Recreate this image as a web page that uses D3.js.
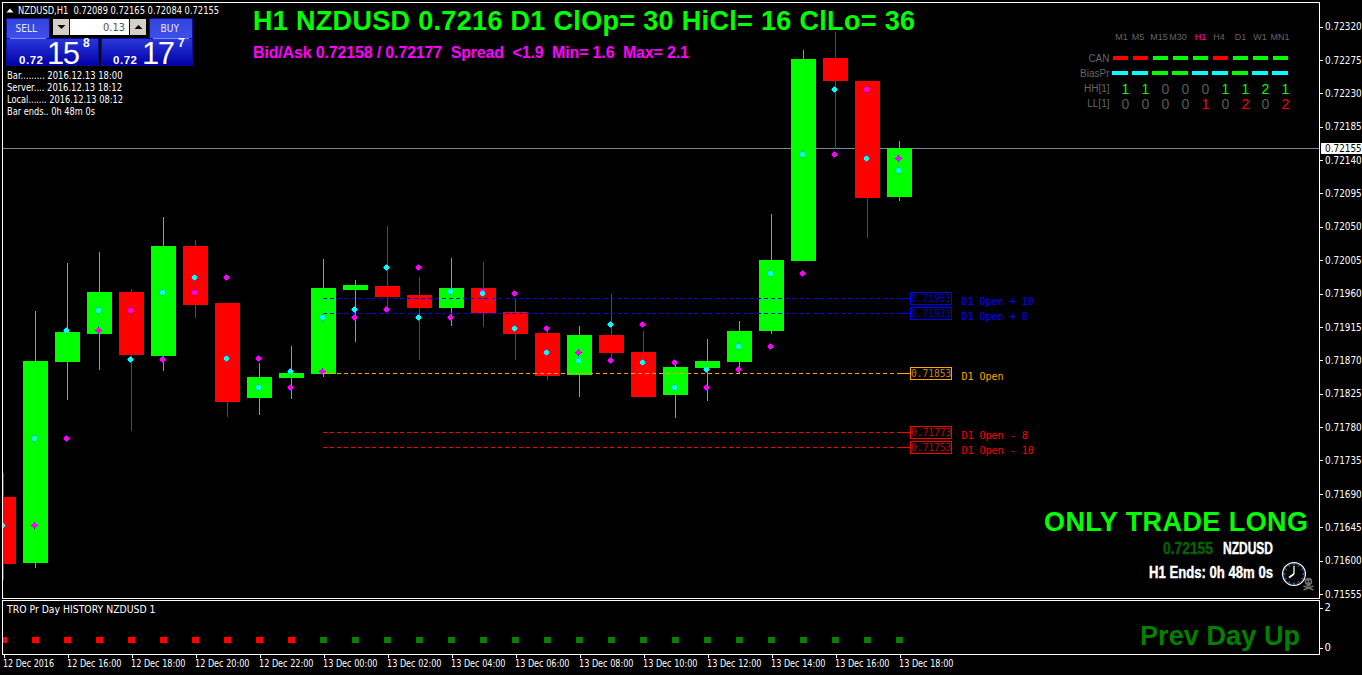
<!DOCTYPE html>
<html><head><meta charset="utf-8">
<script src="https://cdnjs.cloudflare.com/ajax/libs/d3/7.8.5/d3.min.js"></script>
<style>
html,body{margin:0;padding:0;background:#000;overflow:hidden}
svg{display:block}
text{font-family:"Liberation Sans",Arial,sans-serif}
</style></head><body>
<script>
// ---------- data ----------
const timeLabels = ["12 Dec 2016","12 Dec 16:00","12 Dec 18:00","12 Dec 20:00","12 Dec 22:00","13 Dec 00:00","13 Dec 02:00","13 Dec 04:00","13 Dec 06:00","13 Dec 08:00","13 Dec 10:00","13 Dec 12:00","13 Dec 14:00","13 Dec 16:00","13 Dec 18:00"];
const opens  = [.71686,.71597,.71868,.71905,.71962,.71876,.72024,.71947,.71819,.71846,.71851,.71964,.71970,.71958,.71940,.71967,.71935,.71907,.71850,.71904,.71881,.71823,.71860,.71868,.71909,.72003,.72276,.72246,.72089];
const highs  = [.71718,.71936,.72001,.72016,.71966,.72063,.72032,.71947,.71866,.71889,.72006,.71978,.72051,.71982,.72007,.72002,.71952,.71915,.71916,.71959,.71909,.71870,.71899,.71923,.72067,.72287,.72311,.72246,.72165];
const lows   = [.71574,.71591,.71816,.71857,.71775,.71855,.71927,.71794,.71796,.71818,.71847,.71894,.71938,.71870,.71916,.71915,.71870,.71843,.71821,.71870,.71821,.71792,.71815,.71853,.71905,.72003,.72154,.72034,.72084];
const closes = [.71596,.71869,.71908,.71962,.71877,.72024,.71944,.71814,.71847,.71853,.71967,.71971,.71955,.71940,.71967,.71933,.71905,.71849,.71904,.71880,.71821,.71861,.71869,.71909,.72005,.72275,.72246,.72088,.72155];
const cyanDots    = [.71648,.71765,.71911,.71938,.71872,.71962,.71982,.71873,.71834,.71855,.71928,.71939,.71995,.71928,.71963,.71960,.71913,.71881,.71870,.71919,.71868,.71834,.71858,.71889,.71987,.72147,.72235,.72142,.72126];
const magentaDots = [.71648,.71648,.71765,.71911,.71938,.71872,.71962,.71982,.71873,.71834,.71855,.71928,.71939,.71995,.71928,.71963,.71960,.71913,.71881,.71870,.71919,.71868,.71834,.71858,.71889,.71987,.72147,.72235,.72142];
const priceTicks = [.72320,.72275,.72230,.72185,.72140,.72095,.72050,.72005,.71960,.71915,.71870,.71825,.71780,.71735,.71690,.71645,.71600,.71555];
const lastPrice = .72155;
const levelPrices = [.71953,.71933,.71853,.71773,.71753];
const levelNames  = ["D1 Open + 10","D1 Open + 8","D1 Open","D1 Open - 8","D1 Open - 10"];
const levelColors = ["#0000ff","#0000ff","#ffa500","#ff0000","#ff0000"];
const histValues = [.4,.4,.4,.4,.4,.4,.4,.4,.4,.4,.4,.4,.4,.4,.4,.4,.4,.4,.4,.4,.4,.4,.4,.4,.4,.4,.4,.4,.4];
const histUp     = [0,0,0,0,0,0,0,0,0,0,1,1,1,1,1,1,1,1,1,1,1,1,1,1,1,1,1,1,1];
const tfNames = ["M1","M5","M15","M30","H1","H4","D1","W1","MN1"];
const canRow  = ["r","r","g","g","g","r","g","g","g"];
const biasRow = ["c","c","g","g","c","c","g","c","c"];
const hhRow = [1,1,0,0,0,1,1,2,1];
const llRow = [0,0,0,0,1,0,2,0,2];
const infoLines = ["Bar......... 2016.12.13 18:00","Server.... 2016.12.13 18:12","Local....... 2016.12.13 08:12","Bar ends.. 0h 48m 0s"];

// ---------- setup ----------
const W=1362,H=675;
const GREEN="#00ff00",RED="#ff0000",CYAN="#00ffff",MAG="#ff00ff";
const UI='"DejaVu Sans","Liberation Sans"';
const svg=d3.select("body").append("svg").attr("width",W).attr("height",H).style("background","#000");
const defs=svg.append("defs");
const panelL=2.5,panelR=1319.5,mainT=2.5,mainB=598.5,subT=600.5,subB=654.5;
defs.append("clipPath").attr("id","mainClip").append("rect").attr("x",3).attr("y",3).attr("width",1316).attr("height",595);
const x=d3.scaleLinear().domain([0,28]).range([3,899]);
const y=d3.scaleLinear().domain([.71555,.72320]).range([594.4,25.6]);
const yLabels=d3.scaleLinear().domain([.71555,.72320]).range([594,26.5]);
const sub=d3.scaleLinear().domain([0,2]).range([647.5,607.5]);
const idx=d3.range(opens.length);

function label(g,str,px,py,o={}){
  const t=g.append("text").attr("x",px).attr("y",py).text(str)
    .attr("fill",o.fill||"#fff").attr("font-size",o.size||10)
    .attr("font-weight",o.weight||"normal").attr("text-anchor",o.anchor||"start")
    .style("white-space","pre");
  if(o.family)t.style("font-family",o.family);
  if(o.len)t.attr("textLength",o.len).attr("lengthAdjust",o.adjust||"spacing");
  if(o.stroke)t.attr("stroke",o.stroke).attr("stroke-width",o.sw||.4);
  return t;
}
const ui=(g,str,px,py,len,o={})=>label(g,str,px,py,Object.assign({size:10,family:UI,len,adjust:"spacingAndGlyphs"},o));
const crisp=g=>g.attr("shape-rendering","crispEdges");

// ---------- main plot ----------
const plot=svg.append("g").attr("clip-path","url(#mainClip)");
crisp(plot.append("line")).attr("x1",3).attr("x2",1319).attr("y1",Math.round(y(lastPrice))+.5).attr("y2",Math.round(y(lastPrice))+.5).attr("stroke","#778899");
const candles=crisp(plot.append("g"));
const col=i=>closes[i]>=opens[i]?GREEN:RED;
candles.selectAll(".w").data(idx).join("rect").attr("class","w")
  .attr("x",i=>x(i)).attr("width",1)
  .attr("y",i=>Math.round(y(highs[i])))
  .attr("height",i=>Math.max(1,Math.round(y(lows[i]))-Math.round(y(highs[i]))))
  .attr("fill",col);
candles.selectAll(".b").data(idx).join("rect").attr("class","b")
  .attr("x",i=>x(i)-12).attr("width",25)
  .attr("y",i=>Math.round(y(Math.max(opens[i],closes[i]))))
  .attr("height",i=>Math.max(1,Math.round(y(Math.min(opens[i],closes[i])))-Math.round(y(Math.max(opens[i],closes[i])))))
  .attr("fill",col);

// level lines
const levels=svg.append("g");
levelPrices.forEach((p,k)=>{
  const ly=Math.round(y(p))+.5, c=levelColors[k];
  crisp(levels.append("line")).attr("x1",x(10)).attr("x2",900).attr("y1",ly).attr("y2",ly).attr("stroke",c).attr("stroke-dasharray","4,3");
  crisp(levels.append("line")).attr("x1",900).attr("x2",910).attr("y1",ly).attr("y2",ly).attr("stroke",c);
  crisp(levels.append("rect")).attr("x",910.5).attr("y",ly-6).attr("width",41).attr("height",12).attr("fill","none").attr("stroke",c);
  label(levels,d3.format(".5f")(p),911,ly+4,{fill:c,size:11,family:'"DejaVu Sans Mono",monospace'})
    .attr("transform",`translate(911,0) scale(.87,1) translate(-911,0)`).attr("fill-opacity",.8);
  label(levels,levelNames[k],961.5,ly+6,{fill:c,size:10,family:'"DejaVu Sans Mono",monospace'});
});

// indicator dots (5px rounded plus with fringe tips)
function dot(g,px,py,c,fringe){
  crisp(g.append("rect")).attr("x",px-3).attr("y",py).attr("width",7).attr("height",1).attr("fill",fringe);
  crisp(g.append("rect")).attr("x",px).attr("y",py-3).attr("width",1).attr("height",7).attr("fill",fringe);
  crisp(g.append("path")).attr("d",`M${px-1},${py-2}h3v1h1v3h-1v1h-3v-1h-1v-3h1z`).attr("fill",c);
}
const dots=plot.append("g");
idx.forEach(i=>{dot(dots,x(i)-1,Math.round(y(magentaDots[i])),MAG,"#5a10c8");});
idx.forEach(i=>{dot(dots,x(i)-1,Math.round(y(cyanDots[i])),CYAN,"#1088c8");});

// ---------- sub window ----------
const subG=crisp(svg.append("g"));
subG.selectAll("rect").data(idx).join("rect")
  .attr("x",i=>x(i)-3).attr("width",7)
  .attr("y",i=>Math.round(sub(histValues[i]))-3).attr("height",6)
  .attr("fill",i=>histUp[i]?"#008000":RED);
svg.append("rect").attr("x",0).attr("y",600).attr("width",3).attr("height",60).attr("fill","#000");
ui(svg,"TRO Pr Day HISTORY NZDUSD 1",7,612.5,148.5);
label(svg,"Prev Day Up",1140,645,{fill:"#008000",size:27,weight:"bold",len:160});

// ---------- frames ----------
const frames=crisp(svg.append("g")).attr("fill","none").attr("stroke","#fff");
frames.append("rect").attr("x",panelL).attr("y",mainT).attr("width",panelR-panelL).attr("height",mainB-mainT);
frames.append("rect").attr("x",panelL).attr("y",subT).attr("width",panelR-panelL).attr("height",subB-subT);

// ---------- axes ----------
function styleAxis(g){
  g.select(".domain").remove();
  g.selectAll("line").attr("stroke","#fff").attr("shape-rendering","crispEdges");
  g.selectAll("text").attr("fill","#fff").attr("font-size",10).style("font-family",UI);
}
const yAxis=svg.append("g").attr("transform","translate(1319.5,0)")
  .call(d3.axisRight(yLabels).tickValues(priceTicks).tickSize(3).tickPadding(2).tickFormat(d3.format(".5f")));
styleAxis(yAxis);
// squeeze the labels horizontally so they fit the right margin
yAxis.selectAll("text").attr("x",0).attr("transform","translate(5.5,0) scale(.89,1)");
const subAxis=svg.append("g").attr("transform","translate(1319.5,0)")
  .call(d3.axisRight(sub).tickValues([0,2]).tickSize(3).tickPadding(2).tickFormat(d3.format("d")));
styleAxis(subAxis);
const xTicks=timeLabels.map((_,k)=>k*2);
const xAxis=svg.append("g").attr("transform","translate(0,654.5)")
  .call(d3.axisBottom(x).tickValues(xTicks).tickSize(3).tickPadding(2).tickFormat((d,k)=>timeLabels[k]));
styleAxis(xAxis);
xAxis.selectAll(".tick line").attr("transform","translate(0.5,0)");
xAxis.selectAll("text").attr("text-anchor","start").attr("dx",-.5).attr("textLength",(d,k)=>k?54.5:51).attr("lengthAdjust","spacingAndGlyphs");
// last price tag
const tag=svg.append("g");
tag.append("rect").attr("x",1321).attr("y",143).attr("width",41).attr("height",11).attr("fill","#fff");
label(tag,d3.format(".5f")(lastPrice),0,0,{fill:"#000",family:UI,size:10}).attr("transform","translate(1325,152) scale(.89,1)");

// ---------- headline text ----------
label(svg,"H1 NZDUSD 0.7216 D1 ClOp= 30 HiCl= 16 ClLo= 36",253,30,{fill:GREEN,size:27,weight:"bold",len:662});
label(svg,"Bid/Ask 0.72158 / 0.72177  Spread  <1.9  Min= 1.6  Max= 2.1",253,58,{fill:MAG,size:16,weight:"bold",len:436});
label(svg,"ONLY TRADE LONG",1044,530.5,{fill:GREEN,size:27,weight:"bold",len:264});
const imp={weight:"bold",size:16.5,family:'"Liberation Sans"',adjust:"spacingAndGlyphs"};
label(svg,"0.72155",1163,553.5,Object.assign({fill:"#006400",len:50,stroke:"#006400"},imp));
label(svg,"NZDUSD",1223,553.5,Object.assign({fill:"#fff",len:50,stroke:"#fff"},imp));
label(svg,"H1 Ends: 0h 48m 0s",1149,577.5,Object.assign({fill:"#fff",len:124,stroke:"#fff"},imp));

// clock
const clock=svg.append("g").attr("transform","translate(1294,574)");
clock.append("circle").attr("r",11.4).attr("fill","#000").attr("stroke","#fff").attr("stroke-width",1.2);
clock.append("circle").attr("r",10.5).attr("fill","none").attr("stroke","#3a78c8").attr("stroke-width",.6);
d3.range(12).forEach(k=>{
  const a=k*Math.PI/6;
  clock.append("line").attr("x1",Math.sin(a)*8.5).attr("y1",-Math.cos(a)*8.5)
    .attr("x2",Math.sin(a)*10).attr("y2",-Math.cos(a)*10).attr("stroke","#9cc4ff").attr("stroke-width",.8);
});
clock.append("line").attr("x2",0).attr("y2",-8).attr("stroke","#fff").attr("stroke-width",1.3);
clock.append("line").attr("x2",-5).attr("y2",3.5).attr("stroke","#fff").attr("stroke-width",1.6);
// skull and crossbones
const skull=svg.append("g").attr("transform","translate(1308.5,583)");
skull.append("line").attr("x1",-5).attr("y1",3).attr("x2",5).attr("y2",7).attr("stroke","#6e6e6e").attr("stroke-width",1.5);
skull.append("line").attr("x1",5).attr("y1",3).attr("x2",-5).attr("y2",7).attr("stroke","#6e6e6e").attr("stroke-width",1.5);
skull.append("circle").attr("cy",-1.5).attr("r",3.8).attr("fill","#6e6e6e");
skull.append("rect").attr("x",-2).attr("y",1).attr("width",4).attr("height",2.5).attr("fill","#6e6e6e");
skull.append("circle").attr("cx",-1.4).attr("cy",-1.5).attr("r",.9).attr("fill","#000");
skull.append("circle").attr("cx",1.4).attr("cy",-1.5).attr("r",.9).attr("fill","#000");

// ---------- trade panel ----------
const tp=svg.append("g");
const gr=(id,a,b)=>{const g=defs.append("linearGradient").attr("id",id).attr("x1",0).attr("y1",0).attr("x2",0).attr("y2",1);
  g.append("stop").attr("offset",0).attr("stop-color",a);g.append("stop").attr("offset",1).attr("stop-color",b);};
gr("btn","#3344dd","#3f50ea");gr("pn","#2a38d8","#0000a8");
function panel(px,py,w,h,f){crisp(tp.append("rect")).attr("x",px+.5).attr("y",py+.5).attr("width",w-1).attr("height",h-1).attr("fill",`url(#${f})`).attr("stroke","#0c0c9a");}
panel(6,18,44,21,"btn");panel(149,18,44,21,"btn");
panel(6,38,93,28,"pn");panel(101,38,92,28,"pn");
crisp(tp.append("line")).attr("x1",10).attr("x2",46).attr("y1",38.5).attr("y2",38.5).attr("stroke","#7f8cff");
crisp(tp.append("line")).attr("x1",153).attr("x2",189).attr("y1",38.5).attr("y2",38.5).attr("stroke","#7f8cff");
ui(tp,"SELL",15.5,32,21.5,{fill:"#e6e8ff",size:10.5});
ui(tp,"BUY",160.5,32,18.5,{fill:"#e6e8ff",size:10.5});
crisp(tp.append("rect")).attr("x",53).attr("y",19).attr("width",16).attr("height",16).attr("fill","#d4d0c8");
crisp(tp.append("rect")).attr("x",70).attr("y",19).attr("width",59).attr("height",16).attr("fill","#fff");
crisp(tp.append("rect")).attr("x",130).attr("y",19).attr("width",16).attr("height",16).attr("fill","#d4d0c8");
tp.append("path").attr("d","M57.5,25h8l-4,4z").attr("fill","#000");
tp.append("path").attr("d","M134.5,29h8l-4,-4z").attr("fill","#000");
ui(tp,"0.13",103,31,22,{fill:"#555"});
label(tp,"0.72",19,64,{size:11.5,weight:"bold",len:24});
label(tp,"15",47,63.5,{size:31,len:33});
label(tp,"8",83,47,{size:12,weight:"bold"});
label(tp,"0.72",113,64,{size:11.5,weight:"bold",len:24});
label(tp,"17",142,63.5,{size:31,len:33});
label(tp,"7",178,47,{size:12,weight:"bold"});

// header
tp.append("path").attr("d","M6.5,12.5h7l-3.5,-4z").attr("fill","#fff");
ui(svg,"NZDUSD,H1  0.72089 0.72165 0.72084 0.72155",18,14,201);
infoLines.forEach((s,k)=>ui(svg,s,7,79+k*12,[115.5,115,116,88][k]));

// ---------- timeframe matrix ----------
const tf=svg.append("g");
const tfCenters=[1121.5,1138,1159,1178,1200.5,1219,1240.5,1260,1280];
tfNames.forEach((s,k)=>label(tf,s,tfCenters[k],40,{anchor:"middle",size:9,fill:s==="H1"?MAG:"#666"}));
const rowLab=[["CAN",62],["BiasPr",77],["HH[1]",92],["LL[1]",107]];
rowLab.forEach(r=>label(tf,r[0],1109.5,r[1],{anchor:"end",size:10,fill:"#666"}));
const colX=[1113,1133,1152.5,1172.5,1193,1213,1232.5,1252.5,1272.5];
const cmap={r:RED,g:GREEN,c:CYAN};
crisp(tf.selectAll(".can").data(canRow).join("rect")).attr("class","can")
  .attr("x",(d,k)=>colX[k]).attr("y",56).attr("width",15).attr("height",4).attr("fill",d=>cmap[d]);
crisp(tf.selectAll(".bias").data(biasRow).join("rect")).attr("class","bias")
  .attr("x",(d,k)=>colX[k]-1).attr("y",71).attr("width",16).attr("height",4).attr("fill",d=>cmap[d]);
hhRow.forEach((v,k)=>label(tf,v,1125.5+k*20,93.5,{anchor:"middle",size:14,fill:v?GREEN:"#5a5a5a"}));
llRow.forEach((v,k)=>label(tf,v,1125.5+k*20,108.5,{anchor:"middle",size:14,fill:v?RED:"#5a5a5a"}));
</script>
</body></html>
